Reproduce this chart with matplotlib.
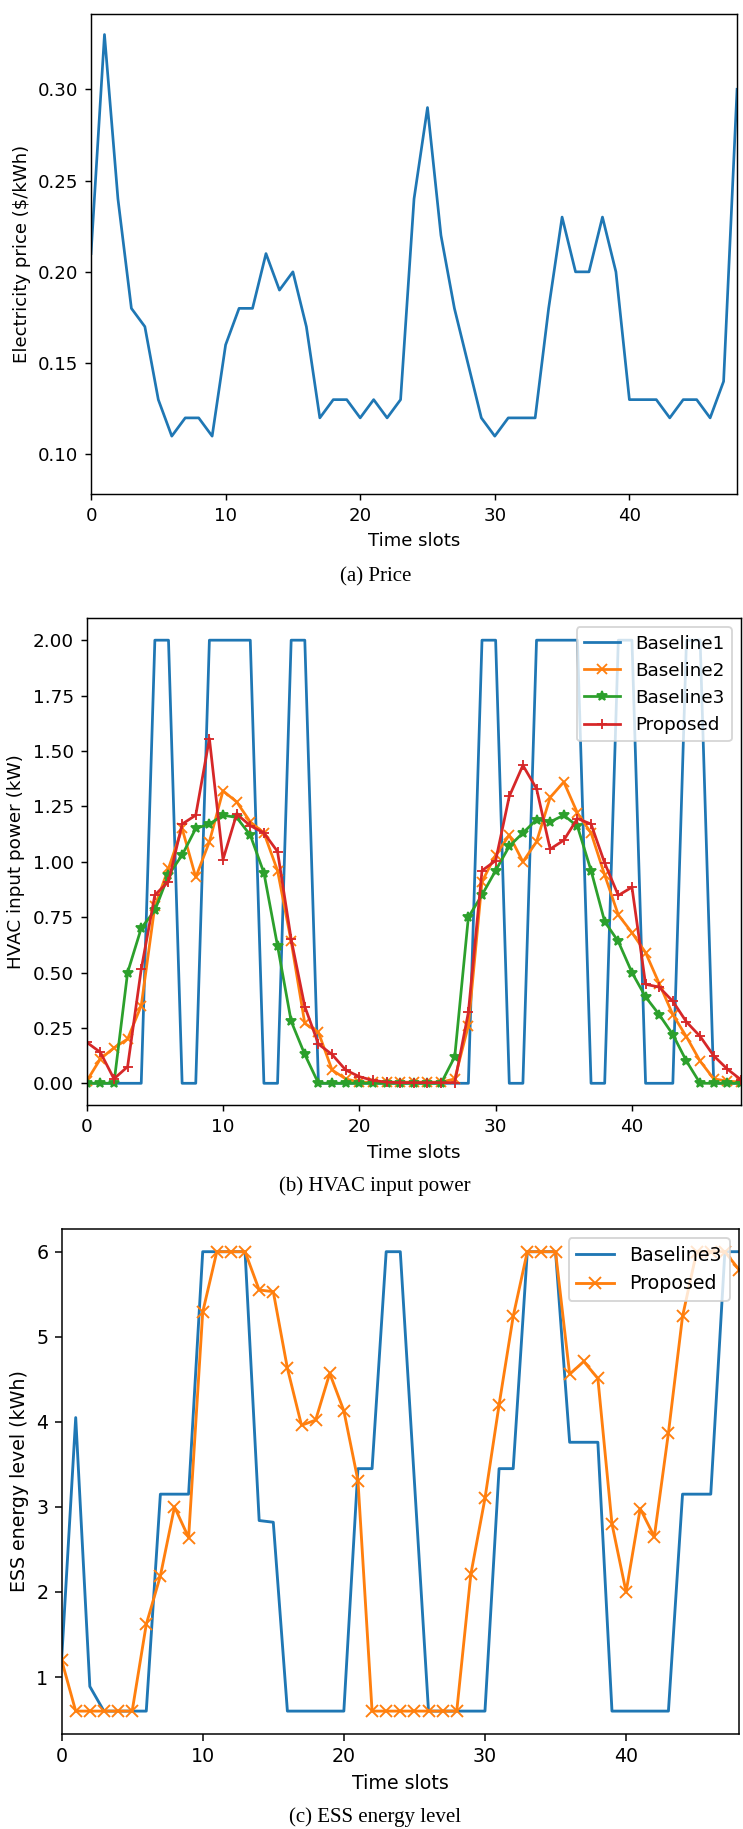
import matplotlib
matplotlib.use("Agg")
import matplotlib.pyplot as plt

slots = list(range(49))

price = [0.21, 0.33, 0.24, 0.18, 0.17, 0.13, 0.11, 0.12, 0.12, 0.11,
         0.16, 0.18, 0.18, 0.21, 0.19, 0.20, 0.17, 0.12, 0.13, 0.13,
         0.12, 0.13, 0.12, 0.13, 0.24, 0.29, 0.22, 0.18, 0.15, 0.12,
         0.11, 0.12, 0.12, 0.12, 0.18, 0.23, 0.20, 0.20, 0.23, 0.20,
         0.13, 0.13, 0.13, 0.12, 0.13, 0.13, 0.12, 0.14, 0.30]

hvac_baseline1 = [0, 0, 0, 0, 0, 2, 2, 0, 0, 2,
                  2, 2, 2, 0, 0, 2, 2, 0, 0, 0,
                  0, 0, 0, 0, 0, 0, 0, 0, 0, 2,
                  2, 0, 0, 2, 2, 2, 2, 0, 0, 2,
                  2, 0, 0, 0, 2, 2, 0, 0, 0]
hvac_baseline2 = [0.01, 0.11, 0.16, 0.20, 0.35, 0.80, 0.97, 1.15, 0.93, 1.09,
                  1.32, 1.27, 1.18, 1.13, 0.96, 0.64, 0.27, 0.23, 0.06, 0.02,
                  0.005, 0.005, 0.005, 0.005, 0.005, 0.005, 0.005, 0.02, 0.26, 0.91,
                  1.03, 1.12, 1.00, 1.09, 1.29, 1.36, 1.22, 1.13, 0.94, 0.76,
                  0.68, 0.59, 0.45, 0.31, 0.21, 0.10, 0.02, 0.01, 0.005]
hvac_baseline3 = [0, 0, 0, 0.50, 0.70, 0.78, 0.94, 1.03, 1.15, 1.17,
                  1.21, 1.20, 1.12, 0.95, 0.62, 0.28, 0.13, 0, 0, 0,
                  0, 0, 0, 0, 0, 0, 0, 0.12, 0.75, 0.85,
                  0.96, 1.07, 1.13, 1.19, 1.18, 1.21, 1.16, 0.96, 0.73, 0.64,
                  0.50, 0.39, 0.31, 0.22, 0.10, 0, 0, 0, 0]
hvac_proposed = [0.185, 0.14, 0.02, 0.075, 0.515, 0.85, 0.91, 1.17, 1.21, 1.556,
                 1.01, 1.215, 1.163, 1.13, 1.046, 0.65, 0.346, 0.177, 0.13, 0.06,
                 0.03, 0.013, 0.005, 0.003, 0.003, 0.003, 0.003, 0.003, 0.32, 0.96,
                 1.005, 1.295, 1.435, 1.33, 1.057, 1.097, 1.195, 1.17, 0.994, 0.848,
                 0.885, 0.447, 0.434, 0.37, 0.277, 0.212, 0.124, 0.064, 0.016]

ess_baseline3 = [1.2, 4.05, 0.89, 0.6, 0.6, 0.6, 0.6, 3.15, 3.15, 3.15,
                 6, 6, 6, 6, 2.84, 2.82, 0.6, 0.6, 0.6, 0.6,
                 0.6, 3.45, 3.45, 6, 6, 3.3, 0.6, 0.6, 0.6, 0.6,
                 0.6, 3.45, 3.45, 6, 6, 6, 3.76, 3.76, 3.76, 0.6,
                 0.6, 0.6, 0.6, 0.6, 3.15, 3.15, 3.15, 6, 6]
ess_proposed = [1.2, 0.6, 0.6, 0.6, 0.6, 0.6, 1.62, 2.19, 3.0, 2.64,
                5.29, 6, 6, 6, 5.55, 5.53, 4.63, 3.96, 4.02, 4.57,
                4.13, 3.31, 0.6, 0.6, 0.6, 0.6, 0.6, 0.6, 0.6, 2.21,
                3.10, 4.20, 5.24, 6, 6, 6, 4.56, 4.71, 4.51, 2.80,
                2.0, 2.98, 2.65, 3.87, 5.24, 6, 6, 6, 5.79]

captions = ["(a) Price", "(b) HVAC input power", "(c) ESS energy level"]


def style_axes(ax, s):
    # each subfigure was a default 6.4x4.8 plot scaled by s
    ax.tick_params(labelsize=10 * s, length=3.5 * s, width=0.8 * s, pad=3.5 * s)
    for spine in ax.spines.values():
        spine.set_linewidth(0.8 * s)
    ax.set_xlim(0, 48)
    ax.set_xlabel("Time slots", fontsize=10 * s, labelpad=4 * s)


def add_legend(ax, s):
    leg = ax.legend(loc="upper right", fontsize=10 * s)
    leg.get_frame().set_linewidth(1.0 * s)


fig = plt.figure(figsize=(7.43, 18.29), dpi=100)

# price
s = 1.302
ax1 = fig.add_axes([0.1225, 0.7299, 0.8695, 0.2624])
ax1.plot(slots, price, color="C0", lw=1.5 * s)
ax1.set_ylim(0.0783, 0.3412)
ax1.set_ylabel("Electricity price (\\$/kWh)", fontsize=10 * s, labelpad=4 * s)
style_axes(ax1, s)

# HVAC power
s = 1.319
ax2 = fig.add_axes([0.1167, 0.3956, 0.8806, 0.2665])
ax2.plot(slots, hvac_baseline1, color="C0", lw=1.5 * s, label="Baseline1")
ax2.plot(slots, hvac_baseline2, color="C1", lw=1.5 * s, marker="x",
         ms=6 * s, mew=1.0 * s, label="Baseline2")
ax2.plot(slots, hvac_baseline3, color="C2", lw=1.5 * s, marker="*",
         ms=6 * s, mew=1.0 * s, label="Baseline3")
ax2.plot(slots, hvac_proposed, color="C3", lw=1.5 * s, marker="+",
         ms=6 * s, mew=1.0 * s, label="Proposed")
ax2.set_ylabel("HVAC input power (kW)", fontsize=10 * s, labelpad=4 * s)
style_axes(ax2, s)
add_legend(ax2, s)

# ESS energy
s = 1.366
ax3 = fig.add_axes([0.0829, 0.0519, 0.9117, 0.2763])
ax3.plot(slots, ess_baseline3, color="C0", lw=1.5 * s, label="Baseline3")
ax3.plot(slots, ess_proposed, color="C1", lw=1.5 * s, marker="x",
         ms=6 * s, mew=1.0 * s, label="Proposed")
ax3.set_ylabel("ESS energy level (kWh)", fontsize=10 * s, labelpad=4 * s)
style_axes(ax3, s)
add_legend(ax3, s)

for text, y in zip(captions, [0.6845, 0.3515, 0.0066]):
    fig.text(0.505, y, text, ha="center", va="center",
             family="Liberation Serif", fontsize=15)

fig.savefig("out.png", dpi=100)
